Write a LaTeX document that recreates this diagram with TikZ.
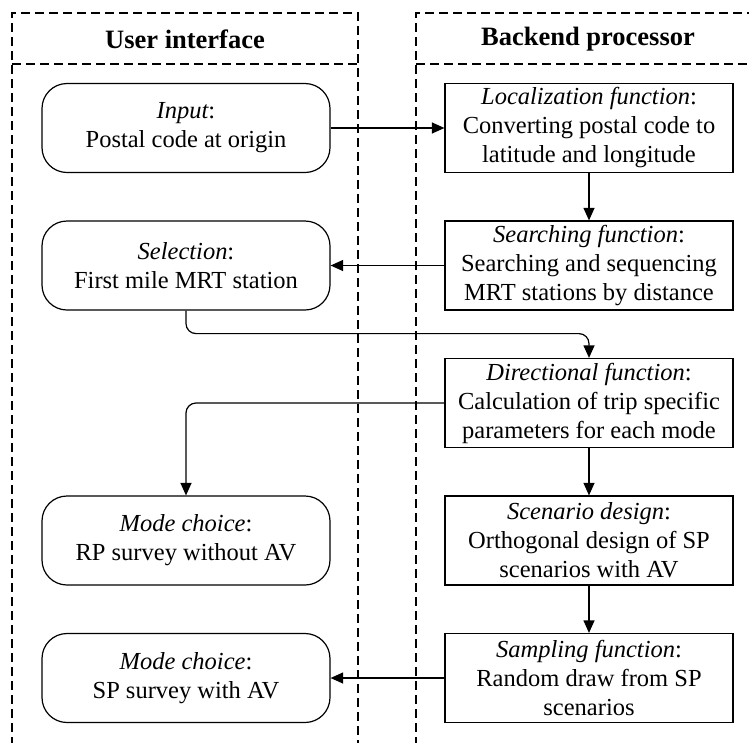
\documentclass[tikz,border=0pt]{standalone}
\usepackage{fontspec}
\setmainfont{Liberation Serif}
\usetikzlibrary{arrows.meta}
\tikzset{
  lane/.style={draw, line width=1.2pt, dash pattern=on 9pt off 5pt},
  headtext/.style={font=\fontsize{26.5}{30}\selectfont\bfseries, inner sep=0pt},
  uibox/.style={draw, line width=1.2pt, rounded corners=25pt, minimum width=288pt,
    minimum height=89pt, align=center, inner sep=0pt, font=\fontsize{24.5}{29}\selectfont},
  bebox/.style={draw, line width=1.2pt, minimum width=288pt, minimum height=89pt,
    align=center, inner sep=0pt, font=\fontsize{24.5}{29}\selectfont},
  arr/.style={-{Triangle[length=12.5pt,width=11pt]}, line width=1.2pt},
}
\begin{document}
\begin{tikzpicture}[x=1pt,y=-1pt]
\useasboundingbox (0,0) rectangle (749,742);
\clip (0,0) rectangle (749,742);
% lanes
\draw[lane] (12,760) -- (12,13) -- (358,13) -- (358,760);
\draw[lane] (12,64) -- (358,64);
\draw[lane] (416,760) -- (416,13) -- (770,13);
\draw[lane] (416,64) -- (770,64);
\node[headtext] (h1) at (185,39) {User interface};
\node[headtext] (h2) at (588,39) {Backend processor};
% user interface boxes
\node[uibox] (inp) at (186,128) {{\itshape Input}:\\Postal code at origin};
\node[uibox] (sel) at (186,265.5) {{\itshape Selection}:\\First mile MRT station};
\node[uibox] (m1) at (186,540.5) {{\itshape Mode choice}:\\RP survey without AV};
\node[uibox] (m2) at (186,678) {{\itshape Mode choice}:\\SP survey with AV};
% backend boxes
\node[bebox] (loc) at (589,128) {{\itshape Localization function}:\\Converting postal code to\\latitude and longitude};
\node[bebox] (sea) at (589,265.5) {{\itshape Searching function}:\\Searching and sequencing\\MRT stations by distance};
\node[bebox] (dir) at (589,403) {{\itshape Directional function}:\\Calculation of trip specific\\parameters for each mode};
\node[bebox] (sce) at (589,540.5) {{\itshape Scenario design}:\\Orthogonal design of SP\\scenarios with AV};
\node[bebox] (sam) at (589,678) {{\itshape Sampling function}:\\Random draw from SP\\scenarios};
% connectors
\draw[arr] (inp.east) -- (loc.west);
\draw[arr] (loc.south) -- (sea.north);
\draw[arr] (sea.west) -- (sel.east);
\draw[arr, rounded corners=10pt] (sel.south) -- ++(0,23) -| (dir.north);
\draw[arr, rounded corners=10pt] (dir.west) -| (m1.north);
\draw[arr] (dir.south) -- (sce.north);
\draw[arr] (sce.south) -- (sam.north);
\draw[arr] (sam.west) -- (m2.east);
\end{tikzpicture}
\end{document}
